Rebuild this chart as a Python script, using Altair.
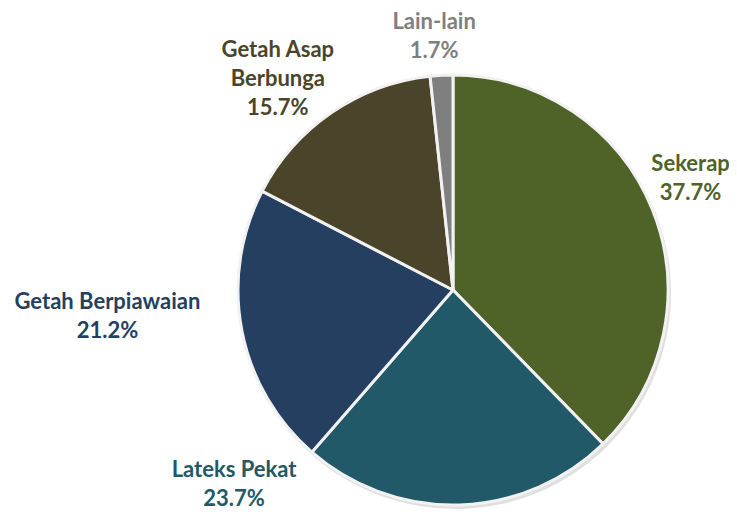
import altair as alt
import pandas as pd

categories = ["Sekerap", "Lateks Pekat", "Getah Berpiawaian", "Getah Asap Berbunga", "Lain-lain"]
shares = [37.7, 23.7, 21.2, 15.7, 1.7]
label_lines = [["Sekerap"], ["Lateks Pekat"], ["Getah Berpiawaian"], ["Getah Asap", "Berbunga"], ["Lain-lain"]]
colors = ["#4F6228", "#215968", "#243F60", "#4A452A", "#7F7F7F"]

df = pd.DataFrame({
    "cat": categories,
    "share": shares,
    "order": list(range(len(categories))),
    "label": ["\n".join(l + [f"{v:.1f}%"]) for l, v in zip(label_lines, shares)],
})

CX, CY = 445, 282
R = 215

color_scale = alt.Scale(domain=categories, range=colors)
theta_scale = alt.Scale(domain=[0, 100])

shadow = alt.Chart(df).mark_arc(radius=R + 1, color="#000000", opacity=0.12).encode(
    theta=alt.Theta("share:Q", stack=True, scale=theta_scale),
    order=alt.Order("order:Q"),
    x=alt.value(CX + 2),
    y=alt.value(CY + 3),
)

slices = alt.Chart(df).mark_arc(radius=R, stroke="#F2F2F2", strokeWidth=3).encode(
    theta=alt.Theta("share:Q", stack=True, scale=theta_scale),
    order=alt.Order("order:Q"),
    color=alt.Color("cat:N", scale=color_scale, legend=None),
    x=alt.value(CX),
    y=alt.value(CY),
)

offsets = {
    "Sekerap": (4, -32),
    "Lateks Pekat": (-228, -70),
    "Getah Berpiawaian": (-102, -35),
    "Getah Asap Berbunga": (-36, -34),
    "Lain-lain": (-7.5, -18),
}

text_base = (
    alt.Chart(df)
    .transform_window(cum="sum(share)", sort=[alt.SortField("order")], frame=[None, 0])
    .transform_calculate(mid="datum.cum - datum.share / 2")
)

layers = [shadow, slices]
for cat, (dx, dy) in offsets.items():
    layers.append(
        text_base.transform_filter(alt.datum.cat == cat)
        .mark_text(radius=250, dx=dx, dy=dy, font="Lato", fontSize=22, fontWeight="bold",
                   lineBreak="\n", lineHeight=29, align="center", baseline="middle")
        .encode(
            theta=alt.Theta("mid:Q", stack=None, scale=theta_scale),
            text="label:N",
            color=alt.Color("cat:N", scale=color_scale, legend=None),
            x=alt.value(CX + 2),
            y=alt.value(CY),
        )
    )

chart = alt.layer(*layers).properties(
    width=721, height=502,
    autosize=alt.AutoSizeParams(type="none"),
    padding=0,
).configure_view(stroke=None)

chart.save("out.html", embed_options={"renderer": "svg", "actions": False})
